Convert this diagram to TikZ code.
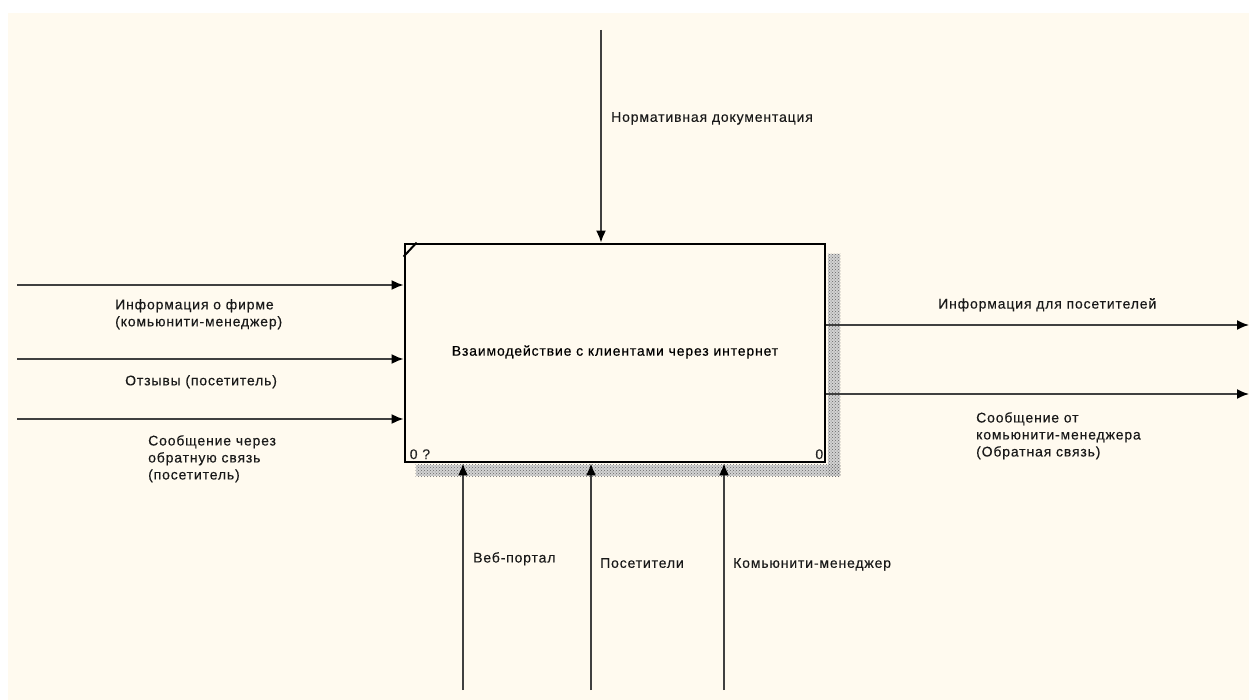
\documentclass[tikz,border=0pt]{standalone}
\usepackage{fontspec}
\setmainfont[LetterSpace=6,FakeBold=0.3]{Liberation Sans}
\usetikzlibrary{arrows.meta}
\usetikzlibrary{patterns}
\usetikzlibrary{calc}
\definecolor{paper}{HTML}{FFFAEF}
\definecolor{flowcolor}{HTML}{404040}

\begin{document}
\begin{tikzpicture}[x=1pt,y=-1pt,
  flow/.style={draw=flowcolor,line width=1.8pt,-{Latex[length=12pt,width=10pt,color=black]}},
  procbox/.style={draw=black,line width=2.8pt,fill=paper,minimum width=420pt,minimum height=218pt,
    inner sep=0pt,font=\fontsize{14}{17}\selectfont},
  lbl/.style={anchor=north west,inner sep=0pt,align=left,font=\fontsize{14}{17}\selectfont,text=black!90},
  numlbl/.style={inner sep=0pt,font=\fontsize{14}{15}\selectfont,text=black!85},
  shadowpat/.style={pattern=crosshatch dots,pattern color=black!60}]
\useasboundingbox (0,0) rectangle (1249,700);
\fill[white] (0,0) rectangle (1249,700);
\fill[paper] (8,13) rectangle (1249,700);

% activity box
\node[procbox] (proc) at (615,353) {\raisebox{5pt}{Взаимодействие с клиентами через интернет}};
\fill[gray!35] ($(proc.north east)+(1.4,11)$) rectangle ($(proc.south east)+(14,13)$);
\fill[gray!35] ($(proc.south west)+(12,1.4)$) rectangle ($(proc.south east)+(14,13)$);
\fill[shadowpat] ($(proc.north east)+(1.4,11)$) rectangle ($(proc.south east)+(14,13)$);
\fill[shadowpat] ($(proc.south west)+(12,1.4)$) rectangle ($(proc.south east)+(14,13)$);
\draw[line width=2pt] ($(proc.north west)+(0,14)$) -- ($(proc.north west)+(13,0)$);
\node[numlbl,anchor=south west] (num) at ($(proc.south west)+(6,-4)$) {0 ?};
\node[numlbl,anchor=south east] (cost) at ($(proc.south east)+(-3,-4)$) {0};

% control
\coordinate (ctl) at (601,30);
\draw[flow] (ctl) -- (ctl |- proc.north);
\node[lbl] (ctltext) at (611,112) {Нормативная документация};

% inputs
\coordinate (in1) at (17,285);
\coordinate (in2) at (17,359);
\coordinate (in3) at (17,419);
\foreach \c in {in1,in2,in3}
  \draw[flow] (\c) -- (\c -| proc.west);
\node[lbl] (in1text) at (115,299) {Информация о фирме\\ (комьюнити-менеджер)};
\node[lbl] (in2text) at (125,375) {Отзывы (посетитель)};
\node[lbl] (in3text) at (148,435) {Сообщение через\\обратную связь\\(посетитель)};

% outputs
\coordinate (out1) at (1249,325);
\coordinate (out2) at (1249,394);
\foreach \c in {out1,out2}
  \draw[flow] (\c -| proc.east) -- (\c);
\node[lbl] (out1text) at (938,298) {Информация для посетителей};
\node[lbl] (out2text) at (976,412) {Сообщение от\\комьюнити-менеджера\\(Обратная связь)};

% mechanisms
\coordinate (mech1) at (463,690);
\coordinate (mech2) at (591,690);
\coordinate (mech3) at (724,690);
\foreach \c in {mech1,mech2,mech3}
  \draw[flow] (\c) -- (\c |- proc.south);
\node[lbl] (mech1text) at (473,552) {Веб-портал};
\node[lbl] (mech2text) at (600,558) {Посетители};
\node[lbl] (mech3text) at (733,558) {Комьюнити-менеджер};
\end{tikzpicture}
\end{document}
